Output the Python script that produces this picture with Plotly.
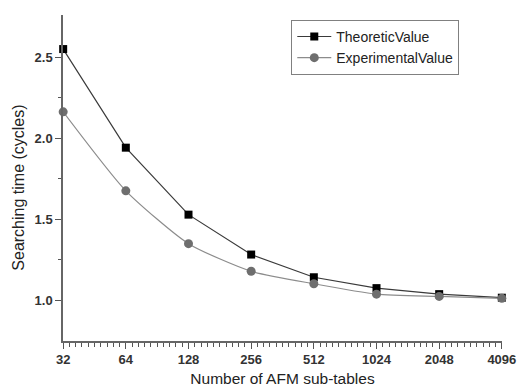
import plotly.graph_objects as go
import numpy as np

sub_tables = [32, 64, 128, 256, 512, 1024, 2048, 4096]
theoretic = [2.55, 1.942, 1.529, 1.283, 1.143, 1.076, 1.039, 1.017]
experimental = [2.163, 1.676, 1.350, 1.180, 1.103, 1.039, 1.025, 1.013]
x_tick_labels = ["32", "64", "128", "256", "512", "1024", "2048", "4096"]
y_ticks = [1.0, 1.5, 2.0, 2.5]

font = "Liberation Sans, Arial, sans-serif"

fig = go.Figure()
fig.add_trace(go.Scatter(
    x=sub_tables, y=theoretic, name="TheoreticValue", mode="lines+markers",
    line=dict(color="#3a3a3a", width=1.2),
    marker=dict(symbol="square", size=8, color="#000000"),
    cliponaxis=False,
))
fig.add_trace(go.Scatter(
    x=sub_tables, y=experimental, name="ExperimentalValue", mode="lines+markers",
    line=dict(color="#8c8c8c", width=1.2, shape="spline", smoothing=0.6),
    marker=dict(symbol="circle", size=9, color="#6e6e6e"),
    cliponaxis=False,
))

minor_x = [sub_tables[0] * 2 ** (k / 10) for k in range(0, 71) if k % 10 != 0]
eps = 0.0008

fig.update_layout(
    width=517, height=388,
    margin=dict(l=63, r=15, t=15, b=47),
    paper_bgcolor="white", plot_bgcolor="white",
    font=dict(family=font, size=12, color="#333333"),
    showlegend=True,
    legend=dict(
        x=0.52, y=0.985, xanchor="left", yanchor="top",
        bgcolor="white", bordercolor="#808080", borderwidth=1,
        font=dict(family=font, size=14, color="#222222"),
        tracegroupgap=0, itemwidth=34,
    ),
    xaxis=dict(
        type="log", automargin=False,
        range=[np.log10(32) - eps, np.log10(4096) + eps],
        tickmode="array", tickvals=sub_tables, ticktext=[f"<b>{t}</b>" for t in x_tick_labels],
        ticklabeloverflow="allow",
        ticks="outside", ticklen=6, tickwidth=1.2, tickcolor="#555555",
        showline=True, linecolor="#666666", linewidth=1.5,
        showgrid=False, zeroline=False,
        tickfont=dict(family=font, size=13, color="#333333"),
        minor=dict(tickmode="array", tickvals=minor_x, ticks="outside", ticklen=4,
                   tickcolor="#555555", tickwidth=1, showgrid=False),
        title=dict(text="Number of AFM sub-tables", font=dict(family=font, size=15.5, color="#222222"), standoff=7),
    ),
    yaxis=dict(
        automargin=False,
        range=[0.75, 2.76],
        tickmode="array", tickvals=y_ticks, ticktext=[f"<b>{v:.1f}</b>" for v in y_ticks],
        ticks="outside", ticklen=6, tickwidth=1.2, tickcolor="#555555",
        showline=True, linecolor="#666666", linewidth=1.5,
        showgrid=False, zeroline=False,
        tickfont=dict(family=font, size=13, color="#333333"),
        minor=dict(tickmode="array", tickvals=[1.25, 1.75, 2.25], ticks="outside", ticklen=3,
                   tickcolor="#555555", tickwidth=1, showgrid=False),
    ),
    annotations=[dict(
        text="Searching time (cycles)", textangle=-90,
        xref="paper", yref="paper", x=-0.102, y=0.471,
        xanchor="center", yanchor="middle", showarrow=False,
        font=dict(family=font, size=16, color="#222222"),
    )],
)

fig.write_html("out.html")
